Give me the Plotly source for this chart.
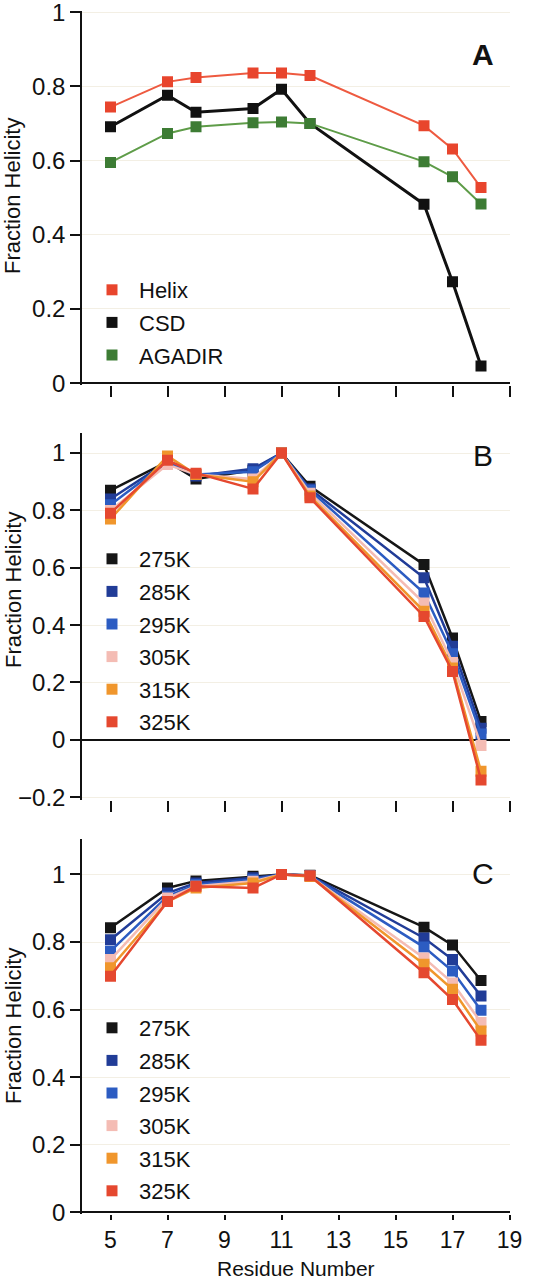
import plotly.graph_objects as go

# ---------------- data ----------------
residues = [5, 7, 8, 10, 11, 12, 16, 17, 18]

# Panel A
helix_A = [0.744, 0.812, 0.824, 0.836, 0.836, 0.829, 0.694, 0.631, 0.527]
csd_A = [0.691, 0.776, 0.730, 0.740, 0.792, 0.700, 0.482, 0.273, 0.046]
agadir_A = [0.595, 0.673, 0.691, 0.702, 0.704, 0.700, 0.597, 0.556, 0.483]

temps = ["275K", "285K", "295K", "305K", "315K", "325K"]

# Panel B
b_275 = [0.870, 0.970, 0.910, 0.940, 1.000, 0.884, 0.611, 0.355, 0.064]
b_285 = [0.840, 0.970, 0.920, 0.945, 1.000, 0.875, 0.565, 0.326, 0.040]
b_295 = [0.820, 0.970, 0.925, 0.935, 1.000, 0.870, 0.512, 0.300, 0.020]
b_305 = [0.800, 0.960, 0.925, 0.910, 1.000, 0.860, 0.477, 0.270, -0.020]
b_315 = [0.770, 0.990, 0.925, 0.900, 1.000, 0.850, 0.448, 0.250, -0.110]
b_325 = [0.790, 0.975, 0.930, 0.875, 1.000, 0.844, 0.430, 0.238, -0.140]

# Panel C
c_275 = [0.842, 0.960, 0.981, 0.995, 1.000, 0.998, 0.844, 0.791, 0.686]
c_285 = [0.807, 0.945, 0.975, 0.990, 1.000, 0.997, 0.812, 0.748, 0.640]
c_295 = [0.773, 0.935, 0.970, 0.985, 1.000, 0.996, 0.785, 0.714, 0.598]
c_305 = [0.748, 0.930, 0.965, 0.980, 1.000, 0.995, 0.753, 0.679, 0.562]
c_315 = [0.724, 0.920, 0.960, 0.975, 1.000, 0.994, 0.734, 0.660, 0.537]
c_325 = [0.699, 0.920, 0.965, 0.960, 1.000, 0.996, 0.709, 0.630, 0.509]

x_ticks = [5, 7, 9, 11, 13, 15, 17, 19]

# ---------------- styles ----------------
FONT = "Liberation Sans, Arial, Helvetica, sans-serif"
temp_colors = ["#161616", "#213c97", "#2c5cc2", "#f4bcb4", "#f0962c", "#e5482f"]
a_series = [
    ("Helix", helix_A, "#ee5a40", "#e8452d", 2),
    ("CSD", csd_A, "#111111", "#111111", 3),
    ("AGADIR", agadir_A, "#5e9c48", "#3d7c34", 2),
]

fig = go.Figure()

def add_series(name, y, line_col, mark_col, lw, xa, ya, leg, grp):
    fig.add_trace(go.Scatter(x=residues, y=y, mode="lines", xaxis=xa, yaxis=ya,
                             line=dict(color=line_col, width=lw), showlegend=False,
                             hoverinfo="skip"))
    fig.add_trace(go.Scatter(x=residues, y=y, mode="markers", xaxis=xa, yaxis=ya,
                             name=name, legend=leg, legendgroup=grp,
                             marker=dict(symbol="square", size=11, color=mark_col,
                                         line=dict(width=0))))

for name, y, lc, mc, lw in a_series:
    add_series(name, y, lc, mc, lw, "x", "y", "legend", "a" + name)

b_data = [b_275, b_285, b_295, b_305, b_315, b_325]
c_data = [c_275, c_285, c_295, c_305, c_315, c_325]
for t, y, col in zip(temps, b_data, temp_colors):
    add_series(t, y, col, col, 2.5, "x2", "y2", "legend2", "b" + t)
for t, y, col in zip(temps, c_data, temp_colors):
    add_series(t, y, col, col, 2.5, "x3", "y3", "legend3", "c" + t)

H = 1280.0
W = 553.0
def py(px):
    return (H - px) / H

xdom = [82 / W, 509.5 / W]
tickfont = dict(family=FONT, size=24, color="#111")
xtickfont = dict(family=FONT, size=23, color="#111")

def xaxis_cfg(showlabels, ticklen, anchor):
    return dict(domain=xdom, range=[4, 19], tickvals=x_ticks,
                showticklabels=showlabels, ticks="outside", ticklen=ticklen,
                tickwidth=1.5, tickcolor="#111", showline=False, showgrid=False,
                zeroline=False, anchor=anchor, tickfont=xtickfont,
                ticklabelstandoff=0, ticklabeloverflow="allow", automargin=False)

def yaxis_cfg(dom, rng, tickvals, ticktext, anchor):
    return dict(domain=dom, range=rng, tickvals=tickvals, ticktext=ticktext,
                ticks="outside", ticklen=10, tickwidth=1.5, tickcolor="#111",
                showline=True, linecolor="#111", linewidth=1.5,
                showgrid=True, gridcolor="#f3efe4", gridwidth=1,
                zeroline=True, zerolinecolor="#111", zerolinewidth=1.5,
                anchor=anchor, tickfont=tickfont, ticklabeloverflow="allow",
                automargin=False)

yA = [0, 0.2, 0.4, 0.6, 0.8, 1]
yA_t = ["0", "0.2", "0.4", "0.6", "0.8", "1"]
yB = [-0.2, 0, 0.2, 0.4, 0.6, 0.8, 1]
yB_t = ["\u22120.2", "0", "0.2", "0.4", "0.6", "0.8", "1"]

legend_common = dict(font=dict(family=FONT, size=22, color="#111"),
                     bgcolor="rgba(0,0,0,0)", itemwidth=44,
                     traceorder="grouped", tracegroupgap=1,
                     xanchor="left", yanchor="top")

LX = (112 - 27) / W

fig.update_layout(
    width=553, height=1280,
    margin=dict(l=0, r=0, t=0, b=0, autoexpand=False),
    paper_bgcolor="white", plot_bgcolor="white",
    font=dict(family=FONT, color="#111"),
    xaxis=xaxis_cfg(False, 11, "y"),
    xaxis2=xaxis_cfg(False, 11, "y2"),
    xaxis3=xaxis_cfg(True, 5, "y3"),
    yaxis=yaxis_cfg([py(385), py(11)], [-0.005, 1.003], yA, yA_t, "x"),
    yaxis2=yaxis_cfg([py(800), py(433)], [-0.21, 1.07], yB, yB_t, "x2"),
    yaxis3=yaxis_cfg([py(1214), py(839)], [-0.005, 1.105], yA, yA_t, "x3"),
    legend=dict(x=LX, y=py(269), **legend_common),
    legend2=dict(x=LX, y=py(538), **legend_common),
    legend3=dict(x=LX, y=py(1007), **legend_common),
    showlegend=True,
)

annots = []
for yc in [py(196), py(590), py(1026)]:
    annots.append(dict(text="Fraction Helicity", x=13 / W, y=yc, xref="paper", yref="paper",
                       textangle=-90, showarrow=False, xanchor="center", yanchor="middle",
                       font=dict(family=FONT, size=22, color="#111")))
annots.append(dict(text="Residue Number", x=296 / W, y=py(1268), xref="paper", yref="paper",
                   showarrow=False, xanchor="center", yanchor="middle",
                   font=dict(family=FONT, size=21, color="#111")))
for lab, ypx, bold in [("A", 54, True), ("B", 456, False), ("C", 873, False)]:
    annots.append(dict(text=("<b>%s</b>" % lab) if bold else lab, x=483 / W, y=py(ypx),
                       xref="paper", yref="paper", showarrow=False,
                       xanchor="center", yanchor="middle",
                       font=dict(family=FONT, size=30, color="#111")))
fig.update_layout(annotations=annots)

fig.write_html("out.html",
               config={"displayModeBar": False},
               post_script="document.body.style.margin='0px';document.body.style.overflow='hidden';")
